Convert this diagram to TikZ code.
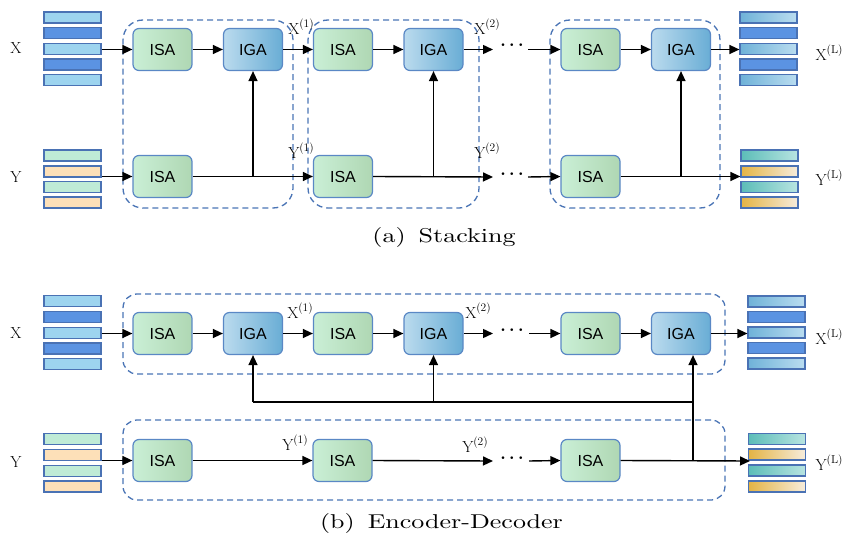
\documentclass[tikz,border=0pt]{standalone}
\usepackage{fontspec}
\usetikzlibrary{arrows.meta,positioning}
\newfontfamily\arialf{Liberation Sans}
\definecolor{dashc}{HTML}{4A74B5}
\definecolor{boxb}{HTML}{5A88C5}
\definecolor{barb}{HTML}{4A72B4}
\definecolor{isaL}{HTML}{CAEFD6}
\definecolor{isaR}{HTML}{AFD7B3}
\definecolor{igaL}{HTML}{BBDBEE}
\definecolor{igaR}{HTML}{69ADD5}
\definecolor{xlight}{HTML}{9DD4EF}
\definecolor{xdark}{HTML}{5B93E2}
\definecolor{ymint}{HTML}{BFEBD6}
\definecolor{ypeach}{HTML}{FDE0B8}
\definecolor{oxL}{HTML}{6FB2D8}
\definecolor{oxR}{HTML}{BADDF0}
\definecolor{otL}{HTML}{5CBDB8}
\definecolor{otR}{HTML}{B8E4E1}
\definecolor{ogL}{HTML}{E4B445}
\definecolor{ogR}{HTML}{F6ECDC}
\newcommand{\mysup}[1]{\raisebox{0.45em}{\fontsize{11.5}{12}\selectfont #1}}
\newcommand{\mycap}[1]{\scalebox{2.6}[2.0]{\fontsize{10}{12}\selectfont #1}}
\tikzset{
  arr/.style={-{Triangle[length=10pt,width=9pt]}, line width=1.4pt, black},
  ln/.style={line width=1.4pt, black},
  isa/.style={draw=boxb, line width=1.2pt, rounded corners=6pt, minimum width=59pt, minimum height=42pt,
     left color=isaL, right color=isaR, font=\arialf\fontsize{16}{17}\selectfont, inner sep=0pt},
  iga/.style={isa, left color=igaL, right color=igaR},
  bar/.style={draw=barb, line width=1.2pt, minimum width=57pt, minimum height=11pt, inner sep=0pt},
  bxl/.style={bar, fill=xlight},
  bxd/.style={bar, fill=xdark},
  bym/.style={bar, fill=ymint},
  byp/.style={bar, fill=ypeach},
  boxg/.style={bar, left color=oxL, right color=oxR},
  bot/.style={bar, left color=otL, right color=otR},
  bog/.style={bar, left color=ogL, right color=ogR},
  grp/.style={draw=dashc, line width=1.3pt, dash pattern=on 6pt off 4pt, rounded corners=20pt, inner sep=0pt},
  lab/.style={font=\fontsize{16}{18}\selectfont, inner sep=0pt},
  dotnode/.style={font=\fontsize{18}{20}\selectfont\boldmath, inner sep=0pt},
  captxt/.style={inner sep=0pt}
}
\begin{document}
\begin{tikzpicture}[x=1pt,y=-1pt]
\useasboundingbox (0,0) rectangle (845,540);
% ================= (a) =================
\node[grp, minimum width=170pt, minimum height=188pt] (gA1) at (208,114) {};
\node[grp, minimum width=171pt, minimum height=188pt] (gA2) at (393.5,114) {};
\node[grp, minimum width=170pt, minimum height=188pt] (gA3) at (635,114) {};
% input bars
\node[bxl] (ax1) at (72.5,17.5) {};
\node[bxd] (ax2) at (72.5,33.2) {};
\node[bxl] (ax3) at (72.5,48.9) {};
\node[bxd] (ax4) at (72.5,64.6) {};
\node[bxl] (ax5) at (72.5,80.3) {};
\node[bym] (ay1) at (72.5,155.5) {};
\node[byp] (ay2) at (72.5,171.5) {};
\node[bym] (ay3) at (72.5,187) {};
\node[byp] (ay4) at (72.5,202.5) {};
% output bars
\node[boxg] (aox1) at (768.5,17.5) {};
\node[bxd] (aox2) at (768.5,33.2) {};
\node[boxg] (aox3) at (768.5,48.9) {};
\node[bxd] (aox4) at (768.5,64.6) {};
\node[boxg] (aox5) at (768.5,80.3) {};
\node[bot] (aoy1) at (769.5,155.5) {};
\node[bog] (aoy2) at (769.5,171.5) {};
\node[bot] (aoy3) at (769.5,187) {};
\node[bog] (aoy4) at (769.5,202.5) {};
% blocks
\node[isa] (aT1) at (162.5,49.5) {ISA};
\node[iga] (aG1) at (253,49.5) {IGA};
\node[isa] (aT2) at (343,49.5) {ISA};
\node[iga] (aG2) at (433.5,49.5) {IGA};
\node[isa] (aT3) at (590.5,49.5) {ISA};
\node[iga] (aG3) at (681,49.5) {IGA};
\node[isa] (aB1) at (162.5,176.5) {ISA};
\node[isa] (aB2) at (343,176.5) {ISA};
\node[isa] (aB3) at (590.5,176.5) {ISA};
% dots
\node[dotnode] (adT) at (512,45) {$\cdots$};
\node[dotnode] (adB) at (512,174) {$\cdots$};
\coordinate (adT1) at (493,49.5);
\coordinate (adT2) at (528,49.5);
\coordinate (adB1) at (493,177);
\coordinate (adB2) at (528,177);
% labels
\node[lab] (aX) at (16,48.5) {X};
\node[lab] (aY) at (16,177.5) {Y};
\node[lab] (aX1) at (301,27) {X\mysup{(1)}};
\node[lab] (aY1) at (301,151) {Y\mysup{(1)}};
\node[lab] (aX2) at (487,27) {X\mysup{(2)}};
\node[lab] (aY2) at (487,151) {Y\mysup{(2)}};
\node[lab] (aXL) at (829,53) {X\mysup{(L)}};
\node[lab] (aYL) at (829,177.5) {Y\mysup{(L)}};
% connectors
\draw[arr] (aT1.west -| ax3.east) -- (aT1.west);
\draw[arr] (aB1.west -| ay2.east) -- (aB1.west);
\draw[arr] (aT1) -- (aG1);
\draw[arr] (aG1) -- (aT2);
\draw[arr] (aT2) -- (aG2);
\draw[arr] (aG2.east) -- (adT1);
\draw[arr] (adT2) -- (aT3.west);
\draw[arr] (aT3) -- (aG3);
\draw[arr] (aG3.east) -- (aG3.east -| aox3.west);
\draw[arr] (aB1) -- (aB2);
\draw[arr] (aB2.east) -- (adB1);
\draw[arr] (adB2) -- (aB3.west);
\draw[arr] (aB3.east) -- (aB3.east -| aoy2.west);
\draw[arr] (aG1.south |- aB1.east) -- (aG1.south);
\draw[arr] (aG2.south |- aB2.east) -- (aG2.south);
\draw[arr] (aG3.south |- aB3.east) -- (aG3.south);
\node[captxt] (capA) at (444,237) {\mycap{(a)\hspace{0.5em}Stacking}};
% ================= (b) =================
\node[grp, rounded corners=14pt, minimum width=602pt, minimum height=80pt] (gB1) at (424,334) {};
\node[grp, rounded corners=14pt, minimum width=602pt, minimum height=80pt] (gB2) at (424,460) {};
\node[bxl] (bx1) at (72.5,301) {};
\node[bxd] (bx2) at (72.5,317) {};
\node[bxl] (bx3) at (72.5,333) {};
\node[bxd] (bx4) at (72.5,348.5) {};
\node[bxl] (bx5) at (72.5,364) {};
\node[bym] (by1) at (72.5,439) {};
\node[byp] (by2) at (72.5,455) {};
\node[bym] (by3) at (72.5,471) {};
\node[byp] (by4) at (72.5,486.5) {};
\node[boxg] (box1) at (776.5,301.5) {};
\node[bxd] (box2) at (776.5,317) {};
\node[boxg] (box3) at (776.5,332.5) {};
\node[bxd] (box4) at (776.5,348) {};
\node[boxg] (box5) at (776.5,363.5) {};
\node[bot] (boy1) at (777,439) {};
\node[bog] (boy2) at (777,454.5) {};
\node[bot] (boy3) at (777,470.5) {};
\node[bog] (boy4) at (777,486.5) {};
\node[isa] (bT1) at (162.5,333.5) {ISA};
\node[iga] (bG1) at (253,333.5) {IGA};
\node[isa] (bT2) at (343,333.5) {ISA};
\node[iga] (bG2) at (433.5,333.5) {IGA};
\node[isa] (bT3) at (590.5,333.5) {ISA};
\node[iga] (bG3) at (681,333.5) {IGA};
\node[isa] (bB1) at (162.5,460.5) {ISA};
\node[isa] (bB2) at (342.5,460.5) {ISA};
\node[isa] (bB3) at (590.5,460.5) {ISA};
\node[dotnode] (bdT) at (512,330) {$\cdots$};
\node[dotnode] (bdB) at (512,458) {$\cdots$};
\coordinate (bdT1) at (493,333.5);
\coordinate (bdT2) at (529,333.5);
\coordinate (bdB1) at (493,461);
\coordinate (bdB2) at (529,461);
\coordinate (bJ) at (693,461);
\coordinate (bH) at (693,402);
\coordinate (bOut) at (750,461);
\node[lab] (bX) at (16,333) {X};
\node[lab] (bY) at (16,462) {Y};
\node[lab] (bX1) at (300,311) {X\mysup{(1)}};
\node[lab] (bX2) at (478,311) {X\mysup{(2)}};
\node[lab] (bY1) at (295,443) {Y\mysup{(1)}};
\node[lab] (bY2) at (475,445) {Y\mysup{(2)}};
\node[lab] (bXL) at (829,337) {X\mysup{(L)}};
\node[lab] (bYL) at (829,463) {Y\mysup{(L)}};
\draw[arr] (bT1.west -| bx3.east) -- (bT1.west);
\draw[arr] (bT1) -- (bG1);
\draw[arr] (bG1) -- (bT2);
\draw[arr] (bT2) -- (bG2);
\draw[arr] (bG2.east) -- (bdT1);
\draw[arr] (bdT2) -- (bT3.west);
\draw[arr] (bT3) -- (bG3);
\draw[arr] (bG3.east) -- (bG3.east -| box3.west);
\draw[arr] (bB1.west -| by2.east) -- (bB1.west);
\draw[arr] (bB1) -- (bB2);
\draw[arr] (bB2.east) -- (bdB1);
\draw[arr] (bdB2) -- (bB3.west);
\draw[arr] (bB3.east) -- (bOut);
\draw[arr] (bJ) -- (bJ |- bG3.south);
\draw[ln] (bH) -- (bG1.south |- bH);
\draw[arr] (bG1.south |- bH) -- (bG1.south);
\draw[arr] (bG2.south |- bH) -- (bG2.south);
\node[captxt] (capB) at (441.5,523) {\mycap{(b)\hspace{0.5em}Encoder-Decoder}};
\end{tikzpicture}
\end{document}
